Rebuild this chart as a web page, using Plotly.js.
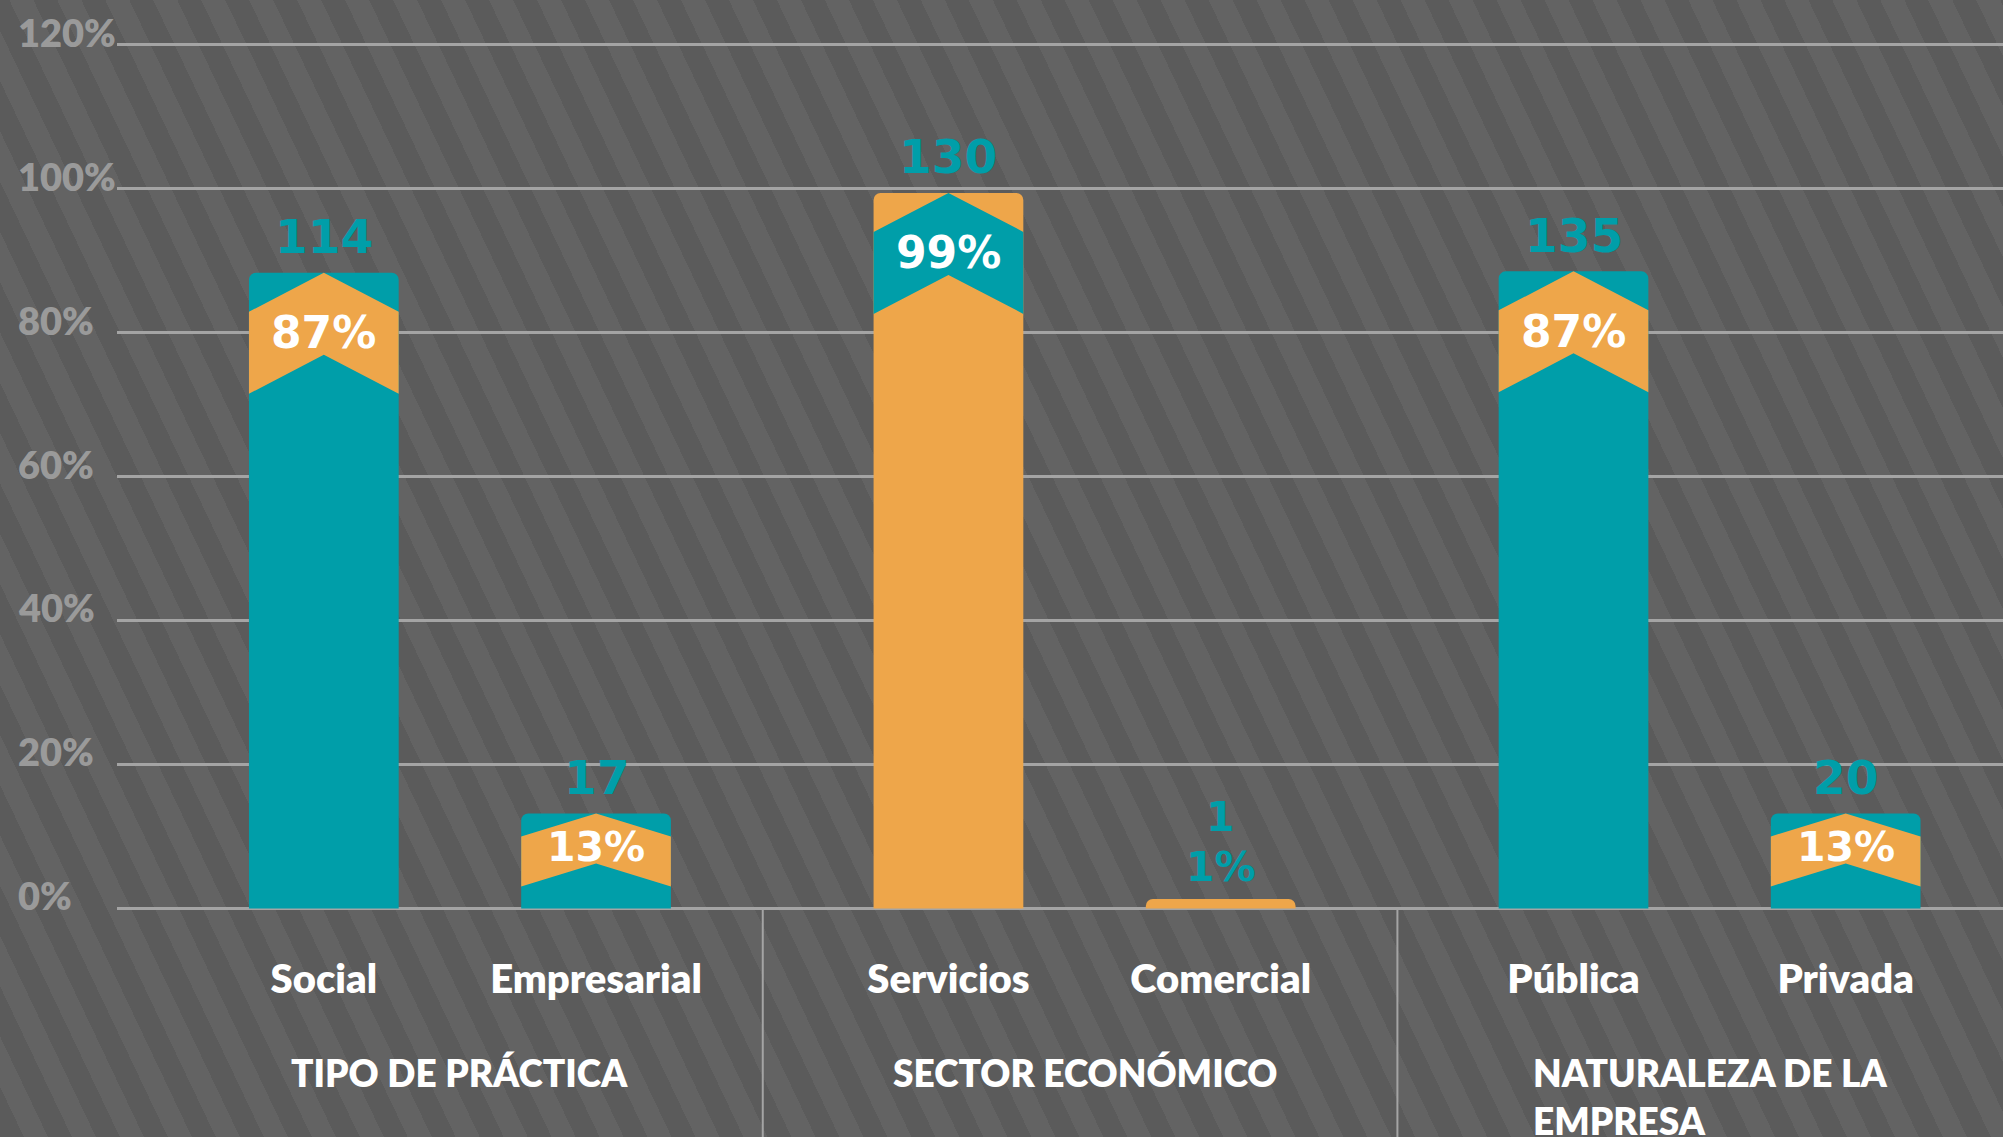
<!DOCTYPE html>
<html>
<head>
<meta charset="utf-8">
<script src="https://cdn.plot.ly/plotly-3.0.1.min.js"></script>
<style>
  html, body { margin: 0; padding: 0; }
  body {
    width: 2003px; height: 1137px; overflow: hidden;
    background: repeating-linear-gradient(64.5deg, #5b5b5b 0px, #5b5b5b 21.6px, #636363 21.6px, #636363 43.3px);
  }
  #chart { width: 2003px; height: 1137px; }
</style>
</head>
<body>
<div id="chart"></div>
<script>
// ---- data ----
const groups = ["TIPO DE PRÁCTICA", "SECTOR ECONÓMICO", "NATURALEZA DE LA<br>EMPRESA"];
const categories = ["Social", "Empresarial", "Servicios", "Comercial", "Pública", "Privada"];
const groupOf = [0, 0, 1, 1, 2, 2];
const counts = [114, 17, 130, 1, 135, 20];
const percentLabels = [87, 13, 99, 1, 87, 13];
const barHeights = [88.3, 13.2, 99.4, 1.3, 88.5, 13.2];
const yTickVals = [0, 20, 40, 60, 80, 100, 120];

// ---- style ----
const TEAL = "#009ea9";
const ORANGE = "#eea64a";
const barMain = ["teal", "teal", "orange", "orange", "teal", "teal"];
const FONT = "Lato, 'Open Sans', sans-serif";
const NUMFONT = "'DejaVu Sans', Verdana, sans-serif";
const axisIds = ["x", "x2", "x3"];
const domains = [[0, 0.3424], [0.3424, 0.6789], [0.6789, 1]];
const xRanges = [[-0.7597, 1.6124], [-0.682, 1.649], [-0.647, 1.578]];
const BARW = 0.55;

const col = k => (k === "teal" ? TEAL : ORANGE);
const other = k => (k === "teal" ? ORANGE : TEAL);

// bars: one trace per group
const traces = groups.map((g, gi) => {
  const idx = categories.map((c, i) => i).filter(i => groupOf[i] === gi);
  return {
    type: "bar",
    x: idx.map(i => categories[i]),
    y: idx.map(i => barHeights[i]),
    marker: { color: idx.map(i => col(barMain[i])), line: { width: 0 } },
    width: BARW,
    xaxis: axisIds[gi],
    yaxis: "y",
    hoverinfo: "skip",
    showlegend: false
  };
});

const shapes = [];
const annotations = [];

// y tick labels (left aligned)
yTickVals.forEach(v => {
  annotations.push({
    text: v + "%", xref: "paper", x: 0, xshift: -101, xanchor: "left",
    yref: "y", y: v, yanchor: "middle", yshift: 13, showarrow: false,
    font: { family: FONT, size: 38, color: "#9a9a9a", weight: 800 }
  });
});

categories.forEach((c, i) => {
  const gi = groupOf[i];
  const k = categories.filter((cc, j) => groupOf[j] === gi).indexOf(c);
  const h = BARW / 2;
  const v = barHeights[i];
  let chev = null, pctShift, cntShift, pctColor = "#ffffff", pctSize = 44, cntSize = 47;
  if (v > 50) { chev = { d: 39, b: 82 }; pctShift = -60; cntShift = 36; }
  else if (v > 5) { chev = { d: 23, b: 50 }; pctShift = -34; cntShift = 36; pctSize = 41; }
  else { pctShift = 32; cntShift = 82; pctColor = TEAL; pctSize = 41; cntSize = 41; }
  if (chev) {
    const L = k - h, C = k, R = k + h;
    shapes.push({
      type: "path", xref: axisIds[gi], yref: "y", ysizemode: "pixel", yanchor: v,
      path: `M ${L},${-chev.d} L ${C},0 L ${R},${-chev.d} L ${R},${-(chev.d + chev.b)} L ${C},${-chev.b} L ${L},${-(chev.d + chev.b)} Z`,
      fillcolor: other(barMain[i]), line: { width: 0 }, layer: "above"
    });
  }
  annotations.push({
    text: percentLabels[i] + "%", xref: axisIds[gi], x: k, yref: "y", y: v,
    yanchor: "middle", yshift: pctShift, showarrow: false,
    font: { family: NUMFONT, size: pctSize, color: pctColor, weight: "bold" }
  });
  annotations.push({
    text: String(counts[i]), xref: axisIds[gi], x: k, yref: "y", y: v,
    yanchor: "middle", yshift: cntShift, showarrow: false,
    font: { family: NUMFONT, size: cntSize, color: TEAL, weight: "bold" }
  });
});

// group labels + dividers
groups.forEach((g, gi) => {
  annotations.push({
    text: g, xref: axisIds[gi], x: 0.5, yref: "paper", y: 0, yanchor: "top", yshift: -136,
    align: "left", showarrow: false,
    font: { family: FONT, size: 37, color: "#ffffff", weight: 800 }
  });
  if (gi > 0) {
    shapes.push({
      type: "line", xref: "paper", yref: "paper", x0: domains[gi][0], x1: domains[gi][0],
      y0: 0.004, y1: -0.3, line: { color: "#a4a4a4", width: 2 }
    });
  }
});

const layout = {
  width: 2003, height: 1137,
  margin: { l: 117, r: 0, t: 41, b: 224.6, pad: 0 },
  paper_bgcolor: "rgba(0,0,0,0)",
  plot_bgcolor: "rgba(0,0,0,0)",
  barcornerradius: 7,
  showlegend: false,
  font: { family: FONT },
  yaxis: {
    range: [-0.5, 120.5], tickvals: yTickVals, showticklabels: false,
    showgrid: true, gridcolor: "#a4a4a4", gridwidth: 2.5, zeroline: false,
    showline: false, ticks: "", fixedrange: true
  },
  shapes: shapes,
  annotations: annotations
};
axisIds.forEach((id, gi) => {
  const key = gi === 0 ? "xaxis" : "xaxis" + (gi + 1);
  layout[key] = {
    domain: domains[gi], anchor: "y", type: "category", range: xRanges[gi],
    showgrid: false, zeroline: false, showline: false, ticks: "",
    ticklabelstandoff: 40,
    tickfont: { family: FONT, size: 40, color: "#ffffff", weight: 800 },
    fixedrange: true
  };
});

Plotly.newPlot("chart", traces, layout, { displayModeBar: false, staticPlot: true });
</script>
</body>
</html>
